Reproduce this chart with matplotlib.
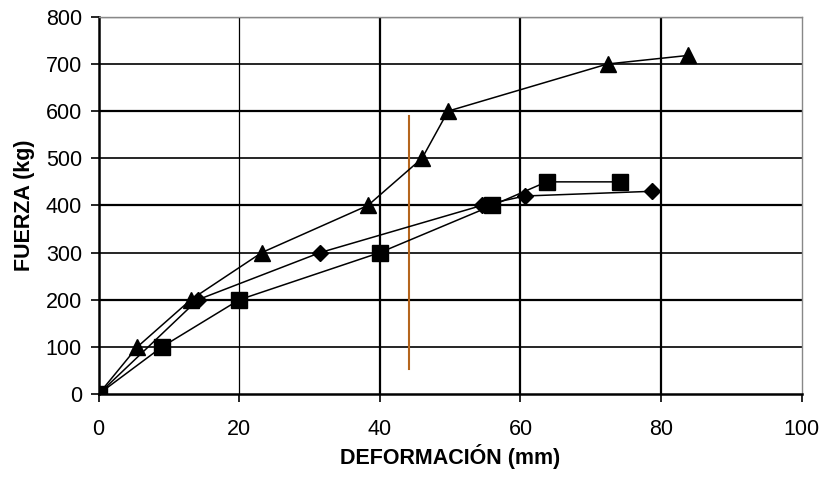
import matplotlib.pyplot as plt

plt.rcParams['font.family'] = ['Liberation Sans', 'DejaVu Sans']

# deformación (mm) / fuerza (kg)
tri_x = [0, 5.5, 13.1, 23.2, 38.3, 46.0, 49.7, 72.4, 83.8]
tri_y = [0, 100, 200, 300, 400, 500, 600, 700, 718]
dia_x = [0, 14.1, 31.5, 54.5, 60.6, 78.7]
dia_y = [0, 200, 300, 400, 420, 430]
sq_x = [0, 9.0, 20.0, 40.0, 56.0, 63.7, 74.2]
sq_y = [0, 100, 200, 300, 400, 450, 450]
ref_x = [44.2, 44.2]
ref_y = [53, 590]

fig = plt.figure(figsize=(8.36, 4.8), dpi=100)
ax = fig.add_axes([0.118, 0.179, 0.841, 0.786])

ax.set_xlim(0, 100)
ax.set_ylim(0, 800)
ax.set_xticks(range(0, 101, 20))
ax.set_yticks(range(0, 801, 100))

for y in range(100, 801, 100):
    ax.axhline(y, color='black', lw=1.6 if y % 200 == 0 else 1.2, zorder=1)
for x in range(20, 81, 20):
    ax.axvline(x, color='black', lw=0.9 if x == 20 else 1.6, zorder=1)

ax.plot(ref_x, ref_y, color='#b5651d', lw=1.5, zorder=2)
ax.plot(tri_x, tri_y, color='black', lw=1.1, marker='^', ms=11, zorder=3)
ax.plot(dia_x, dia_y, color='black', lw=1.1, marker='D', ms=8.5, zorder=3)
ax.plot(sq_x, sq_y, color='black', lw=1.1, marker='s', ms=11, zorder=4)

for s in ['left', 'bottom']:
    ax.spines[s].set_linewidth(1.8)
for s in ['top', 'right']:
    ax.spines[s].set_color('#888888')
    ax.spines[s].set_linewidth(1.0)

ax.tick_params(direction='out', length=6, width=1.2, labelsize=15.5)
ax.tick_params(axis='x', pad=12)
ax.tick_params(axis='y', pad=6)
ax.set_xlabel('DEFORMACIÓN (mm)', fontsize=15.5, fontweight='bold', labelpad=3)
ax.set_ylabel('FUERZA (kg)', fontsize=15.5, fontweight='bold', labelpad=8)

fig.savefig('out.png', dpi=100)
